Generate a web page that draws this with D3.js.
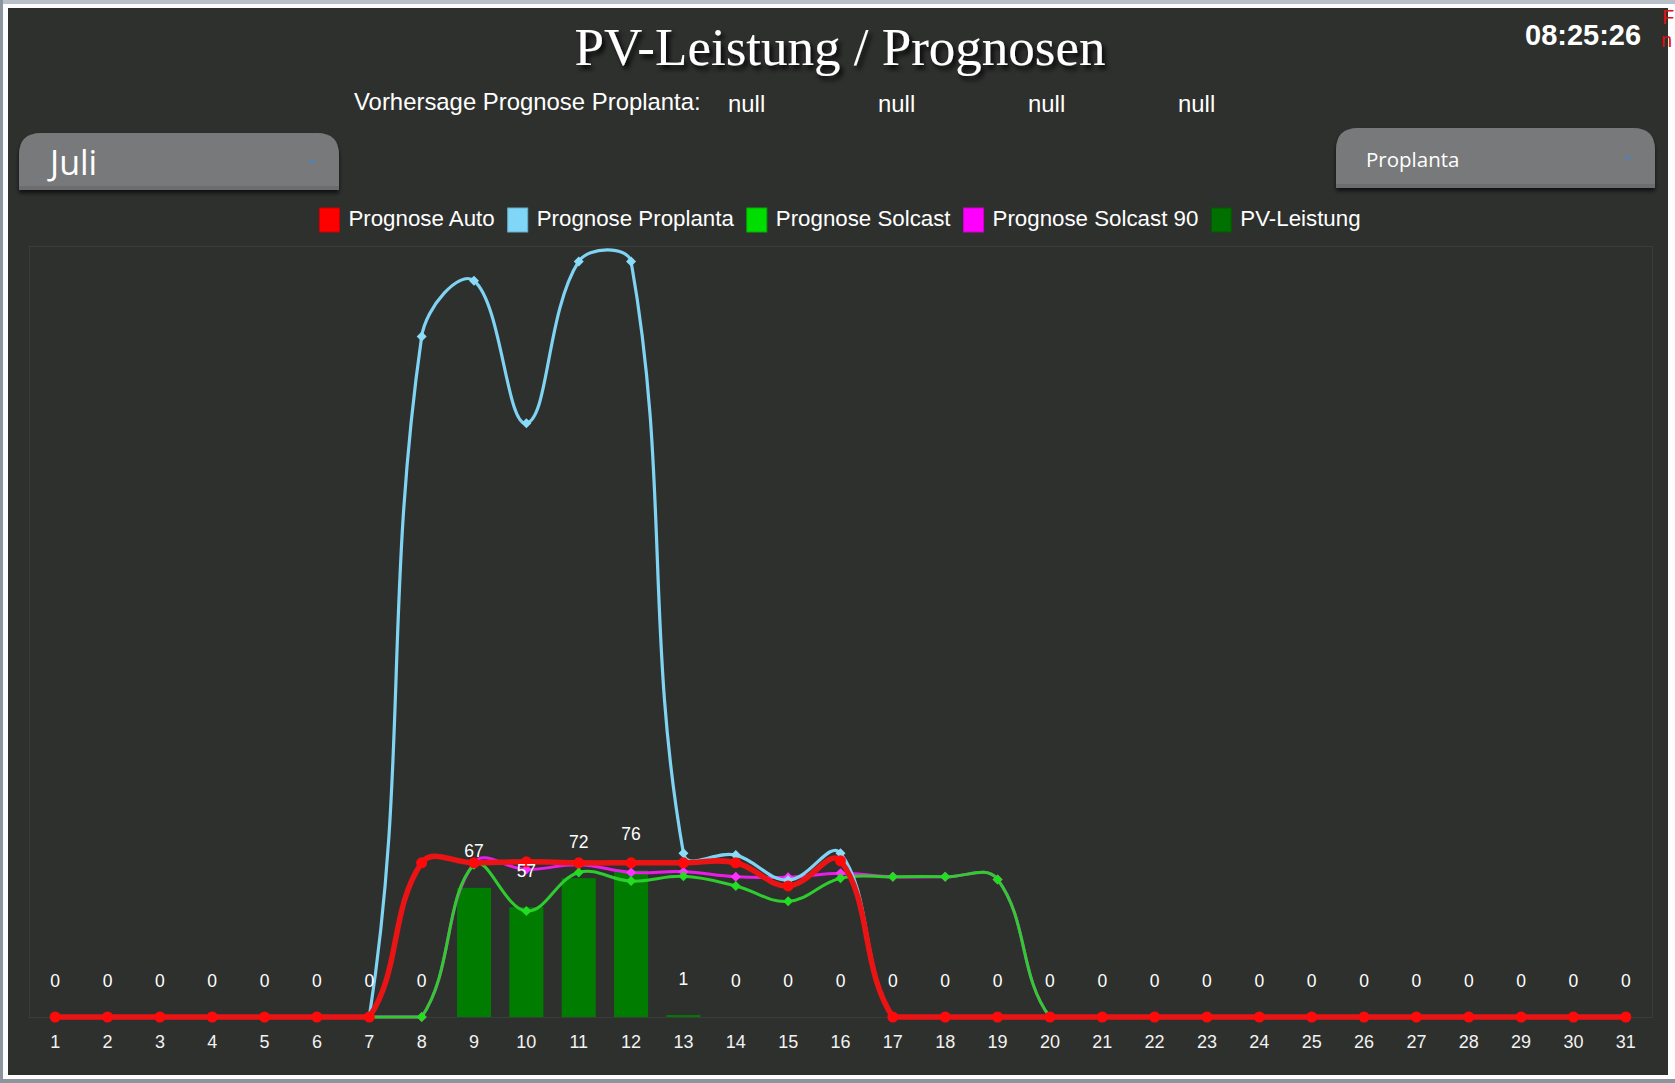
<!DOCTYPE html>
<html><head><meta charset="utf-8">
<script src="https://cdn.jsdelivr.net/npm/d3@7"></script>
<style>
html,body{margin:0;padding:0;background:#fff;overflow:hidden}
svg{display:block}
</style></head><body>
<svg id="c" width="1675" height="1083"></svg>
<script>
// ---- data ----
const days = d3.range(1, 32).map(String);
const seriesNames = ["Prognose Auto", "Prognose Proplanta", "Prognose Solcast", "Prognose Solcast 90", "PV-Leistung"];
const prognoseAuto =       [0,0,0,0,0,0,0, 80,80,80.5,80,80,80,80,68,81, 0,0,0,0,0,0,0,0,0,0,0,0,0,0,0];
const prognoseProplanta =  [0,0,0,0,0,0,0, 353,382,308,392,392,85,84,71,85, 0,0,0,0,0,0,0,0,0,0,0,0,0,0,0];
const prognoseSolcast =    [0,0,0,0,0,0,0,0, 79,55,75,70.5,73,68,60,72,72.7,72.7,71.4, 0,0,0,0,0,0,0,0,0,0,0,0];
const prognoseSolcast90 =  [0,0,0,0,0,0,0,0, 80,76.5,79,75,75.4,72.8,72.5,74.6,72.7,72.7,71.4, 0,0,0,0,0,0,0,0,0,0,0,0];
const pvLeistung =         [0,0,0,0,0,0,0,0, 67,57,72,76,1, 0,0,0,0,0,0,0,0,0,0,0,0,0,0,0,0,0,0];
const nullValues = ["null","null","null","null"];
const monthLabel = "Juli";
const sourceLabel = "Proplanta";
const clockText = "08:25:26";
const yMax = 400;

// ---- drawing ----
const svg = d3.select("#c");
const W = 1675, H = 1083;
const defs = svg.append("defs");
const sh = defs.append("filter").attr("id","tshadow").attr("x","-10%").attr("y","-30%").attr("width","120%").attr("height","160%");
sh.append("feDropShadow").attr("dx",3).attr("dy",4).attr("stdDeviation",2.5).attr("flood-color","#000").attr("flood-opacity",0.95);
const bsh = defs.append("filter").attr("id","bshadow").attr("x","-5%").attr("y","-20%").attr("width","110%").attr("height","150%");
bsh.append("feDropShadow").attr("dx",0).attr("dy",3).attr("stdDeviation",2).attr("flood-color","#000").attr("flood-opacity",0.7);

// frame
svg.append("rect").attr("x",0).attr("y",0).attr("width",W).attr("height",H).attr("fill","#fdfdfd");
svg.append("rect").attr("x",0).attr("y",0).attr("width",W).attr("height",4).attr("fill","#b9c0ca");
svg.append("rect").attr("x",0).attr("y",0).attr("width",3).attr("height",H).attr("fill","#8c949d");
svg.append("rect").attr("x",0).attr("y",1079).attr("width",W).attr("height",4).attr("fill","#8c949d");
svg.append("rect").attr("x",8).attr("y",8).attr("width",1660).attr("height",1067).attr("fill","#2e302e");

// red clipped text on the right edge
svg.append("text").attr("x",1662).attr("y",24).attr("fill","#e01010")
  .style("font-family","Liberation Sans, Arial, sans-serif").style("font-size","20px").text("F");
svg.append("text").attr("x",1661).attr("y",47).attr("fill","#e01010")
  .style("font-family","Liberation Sans, Arial, sans-serif").style("font-size","20px").text("n");

// title
svg.append("text").attr("x",840).attr("y",65).attr("text-anchor","middle").attr("fill","#fff")
  .attr("filter","url(#tshadow)")
  .style("font-family","Liberation Serif, Times New Roman, serif").style("font-size","53px")
  .text("PV-Leistung / Prognosen");

// clock
svg.append("text").attr("x",1525).attr("y",45).attr("fill","#fff")
  .style("font-family","Liberation Sans, Arial, sans-serif").style("font-size","29px").style("font-weight","bold")
  .text(clockText);

// forecast line
const sans = "Liberation Sans, Arial, sans-serif";
svg.append("text").attr("x",354).attr("y",110).attr("fill","#fff")
  .style("font-family",sans).style("font-size","23.9px").text("Vorhersage Prognose Proplanta:");
const nullX = [728, 878, 1028, 1178];
nullValues.forEach((t,i)=>{
  svg.append("text").attr("x",nullX[i]).attr("y",112).attr("fill","#fff")
    .style("font-family",sans).style("font-size","23.9px").text(t);
});

// dropdowns
function topRounded(x,y,w,h,r){
  return `M${x},${y+h}V${y+r}Q${x},${y} ${x+r},${y}H${x+w-r}Q${x+w},${y} ${x+w},${y+r}V${y+h}Z`;
}
function dropdown(x,y,w,h,label,fs,tx,ty,ax,ay){
  const g = svg.append("g");
  g.append("path").attr("d",topRounded(x,y,w,h,22)).attr("fill","#78797a").attr("filter","url(#bshadow)");
  g.append("rect").attr("x",x).attr("y",y+h-4).attr("width",w).attr("height",4).attr("fill","#6c6d6e");
  g.append("text").attr("x",tx).attr("y",ty).attr("fill","#fff")
    .style("font-family","Open Sans, Noto Sans, sans-serif").style("font-size",fs+"px").text(label);
  g.append("path").attr("d",`M${ax-4},${ay-2}L${ax+4},${ay-2}L${ax},${ay+3}Z`).attr("fill","#5a7fa8");
}
dropdown(19,133,320,57,monthLabel,34,50,175,312,162);
dropdown(1336,128,319,60,sourceLabel,20.5,1366,167,1628,158);

// legend
const legendColors = ["#ff0000","#7fd6f6","#00dd00","#ff00ff","#007000"];
const legendG = svg.append("g");
let lx = 0;
seriesNames.forEach((n,i)=>{
  const it = legendG.append("g");
  it.append("rect").attr("x",0).attr("y",208).attr("width",20).attr("height",24)
    .attr("fill",legendColors[i]).attr("stroke",d3.color(legendColors[i]).darker(0.6)).attr("stroke-width",1);
  const t = it.append("text").attr("x",29).attr("y",226).attr("fill","#fff")
    .style("font-family",sans).style("font-size","22.3px").text(n);
  const w = 29 + t.node().getComputedTextLength();
  it.attr("transform",`translate(${lx},0)`);
  lx += w + 13;
});
const totalW = lx - 13;
legendG.attr("transform",`translate(${840 - totalW/2},0)`);

// chart
const plot = {left:29, right:1652, top:246, bottom:1017};
const x = d3.scaleBand().domain(days).range([plot.left, plot.right]).padding(0);
const y = d3.scaleLinear().domain([0,yMax]).range([plot.bottom, plot.top]);

svg.append("rect").attr("x",plot.left+0.5).attr("y",plot.top+0.5)
  .attr("width",plot.right-plot.left).attr("height",plot.bottom-plot.top)
  .attr("fill","none").attr("stroke","#3a3c3a").attr("stroke-width",1);

const cx = d => x(d) + x.bandwidth()/2;

// bars
const barW = x.bandwidth()*0.65;
svg.append("g").selectAll("rect").data(days).join("rect")
  .attr("x",d=>cx(d)-barW/2).attr("width",barW)
  .attr("y",(d,i)=>y(pvLeistung[i])).attr("height",(d,i)=>y(0)-y(pvLeistung[i]))
  .attr("fill","#007d00");

// Chart.js-like spline
function splinePath(pts, t){
  const cps = pts.map((p,i)=>{
    const prev = pts[i-1]||p, next = pts[i+1]||p;
    const d01 = Math.hypot(p.x-prev.x,p.y-prev.y), d12 = Math.hypot(next.x-p.x,next.y-p.y);
    let s01 = d01/(d01+d12), s12 = d12/(d01+d12);
    if (isNaN(s01)) s01 = 0; if (isNaN(s12)) s12 = 0;
    const fa = t*s01, fb = t*s12;
    const cap = v => Math.max(plot.top, Math.min(plot.bottom, v));
    return {
      c1x: p.x - fa*(next.x-prev.x), c1y: cap(p.y - fa*(next.y-prev.y)),
      c2x: p.x + fb*(next.x-prev.x), c2y: cap(p.y + fb*(next.y-prev.y))
    };
  });
  const path = d3.path();
  path.moveTo(pts[0].x, pts[0].y);
  for (let i=1;i<pts.length;i++){
    path.bezierCurveTo(cps[i-1].c2x, cps[i-1].c2y, cps[i].c1x, cps[i].c1y, pts[i].x, pts[i].y);
  }
  return path.toString();
}

function drawLine(values, color, width, pointColor, pointStyle, r){
  const pts = values.map((v,i)=>({x:cx(days[i]), y:y(v)}));
  const g = svg.append("g");
  g.append("path").attr("d",splinePath(pts,0.4)).attr("fill","none")
    .attr("stroke",color).attr("stroke-width",width).attr("stroke-linejoin","round");
  if (pointStyle === "circle"){
    g.selectAll("circle").data(pts).join("circle").attr("cx",p=>p.x).attr("cy",p=>p.y).attr("r",r).attr("fill",pointColor);
  } else {
    g.selectAll("path.pt").data(pts).join("path").attr("class","pt")
      .attr("d",p=>`M${p.x},${p.y-r}L${p.x+r},${p.y}L${p.x},${p.y+r}L${p.x-r},${p.y}Z`).attr("fill",pointColor);
  }
}
drawLine(prognoseSolcast90, "#e81ee8", 3, "#ff30ff", "diamond", 5);
drawLine(prognoseSolcast, "#2fcc2f", 3, "#22dd22", "diamond", 5);
drawLine(prognoseProplanta, "#7fd3f3", 3.2, "#8adcf8", "diamond", 5);
drawLine(prognoseAuto, "#ea1414", 5.5, "#ff0a0a", "circle", 5.5);

// data labels
svg.append("g").selectAll("text").data(days).join("text")
  .attr("x",d=>cx(d)).attr("y",(d,i)=>y(pvLeistung[i])-30.5).attr("text-anchor","middle")
  .attr("fill","#fff").style("font-family",sans).style("font-size","17.5px")
  .text((d,i)=>String(pvLeistung[i]));

// x axis labels
const xAxis = d3.axisBottom(x).tickSize(0).tickPadding(0);
const ax = svg.append("g").attr("transform",`translate(0,${plot.bottom})`).call(xAxis);
ax.select(".domain").remove();
ax.selectAll("text").attr("y",31).attr("dy",0).attr("fill","#f2f2f2")
  .style("font-family",sans).style("font-size","18px");
</script>
</body></html>
